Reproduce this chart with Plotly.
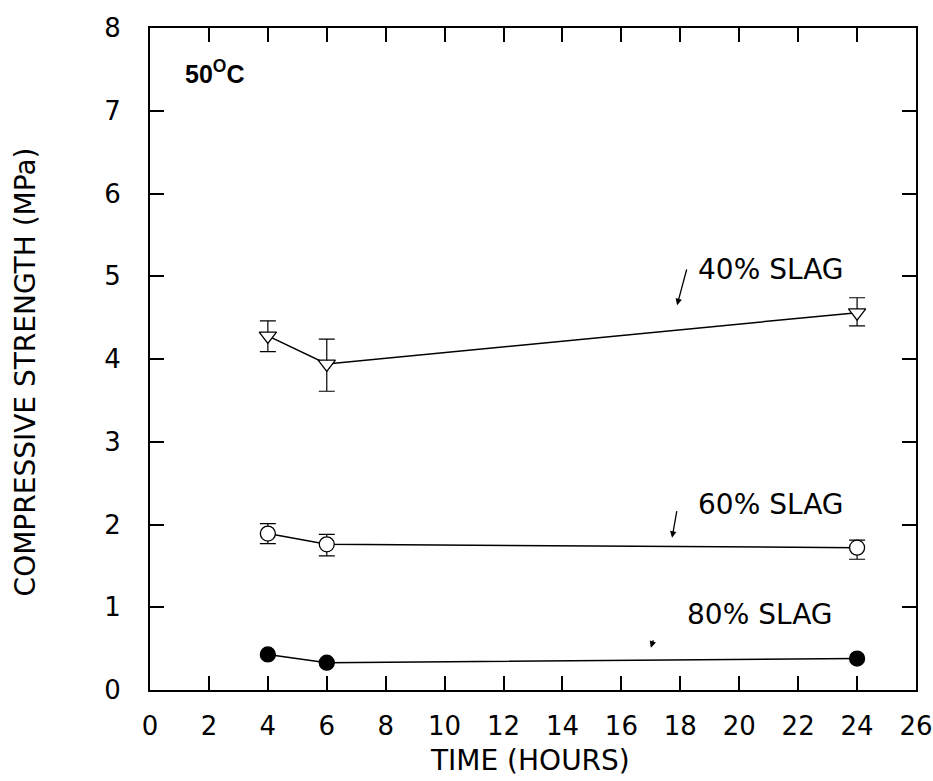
import plotly.graph_objects as go

# ---- data ----
hours = [4, 6, 24]
slag40 = [4.28, 3.94, 4.56]
slag40_err_plus = [0.18, 0.30, 0.18]
slag40_err_minus = [0.19, 0.33, 0.16]
slag60 = [1.89, 1.76, 1.72]
slag60_err_plus = [0.12, 0.12, 0.09]
slag60_err_minus = [0.12, 0.14, 0.14]
slag80 = [0.43, 0.33, 0.38]
x_ticks = list(range(0, 27, 2))
y_ticks = list(range(0, 9))

FONT = "DejaVu Sans"
BLACK = "black"

fig = go.Figure()

def add_series(y, plus, minus, symbol, fill):
    err = None
    if plus is not None:
        err = dict(type="data", symmetric=False, array=plus, arrayminus=minus,
                   width=8, thickness=1.2, color=BLACK)
    fig.add_trace(go.Scatter(
        x=hours, y=y, mode="lines+markers",
        line=dict(color=BLACK, width=1.5),
        marker=dict(symbol=symbol, size=15, color=fill,
                    line=dict(color=BLACK, width=1.3)),
        error_y=err, showlegend=False, cliponaxis=False))

add_series(slag40, slag40_err_plus, slag40_err_minus, "triangle-down", "white")
add_series(slag60, slag60_err_plus, slag60_err_minus, "circle", "white")
add_series(slag80, None, None, "circle", BLACK)

annotations = [
    dict(x=21.08, y=5.08, text="40% SLAG", showarrow=False),
    dict(x=21.08, y=2.24, text="60% SLAG", showarrow=False),
    dict(x=20.7, y=0.91, text="80% SLAG", showarrow=False),
]
for a in annotations:
    a.update(xref="x", yref="y", xanchor="center", yanchor="middle",
             font=dict(family=FONT, size=28, color=BLACK))

arrows = [
    (17.89, 4.65, 18.23, 5.10),
    (17.72, 1.84, 17.89, 2.18),
    (17.0, 0.51, 17.1, 0.62),
]
for hx, hy, tx, ty in arrows:
    annotations.append(dict(x=hx, y=hy, ax=tx, ay=ty, xref="x", yref="y",
                            axref="x", ayref="y", text="", showarrow=True,
                            arrowhead=2, arrowsize=1, arrowwidth=1.3,
                            arrowcolor=BLACK))

annotations.append(dict(x=1.12, y=7.47, xref="x", yref="y", xanchor="left",
                        yanchor="middle", text="50<sup>O</sup>C", showarrow=False,
                        font=dict(family="Liberation Sans", size=25, color=BLACK,
                                  weight="bold")))
annotations.append(dict(x=0.496, y=-0.106, xref="paper", yref="paper",
                        xanchor="center", yanchor="middle", text="TIME (HOURS)",
                        showarrow=False, font=dict(family=FONT, size=28, color=BLACK)))
annotations.append(dict(x=-0.163, y=0.48, xref="paper", yref="paper",
                        xanchor="center", yanchor="middle", textangle=-90,
                        text="COMPRESSIVE STRENGTH (MPa)", showarrow=False,
                        font=dict(family=FONT, size=28, color=BLACK)))

axis_common = dict(showline=True, linecolor=BLACK, linewidth=2, mirror="ticks",
                   ticks="inside", ticklen=14, tickwidth=1.5, tickcolor=BLACK,
                   showgrid=False, zeroline=False, ticklabeloverflow="allow",
                   tickfont=dict(family=FONT, size=26, color=BLACK))

fig.update_layout(
    width=933, height=781,
    margin=dict(l=150, r=17, t=28, b=91, autoexpand=False),
    paper_bgcolor="white", plot_bgcolor="white",
    xaxis=dict(range=[0, 26], tickmode="array", tickvals=x_ticks,
               ticklabelstandoff=12, **axis_common),
    yaxis=dict(range=[0, 8], tickmode="array", tickvals=y_ticks,
               ticklabelstandoff=22, **axis_common),
    annotations=annotations,
)

fig.write_html("out.html")
